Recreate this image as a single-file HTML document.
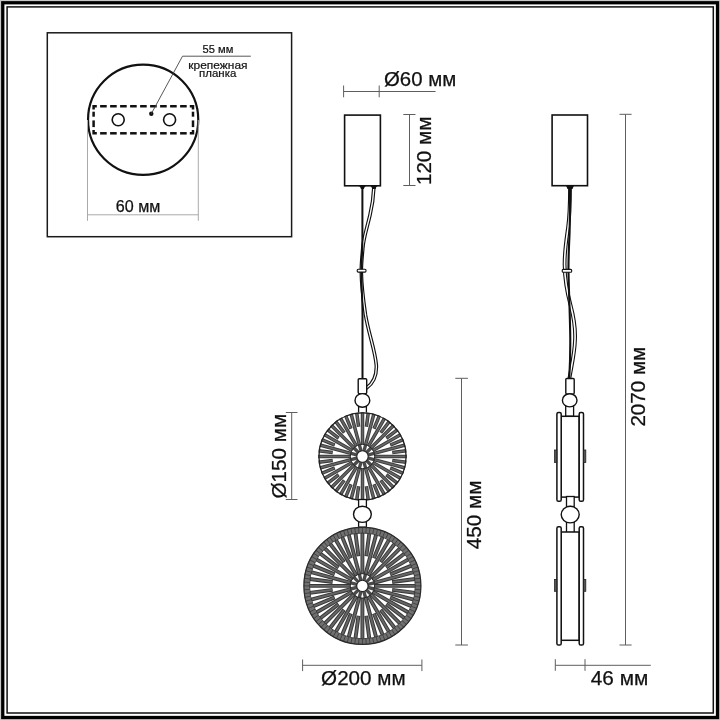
<!DOCTYPE html>
<html><head><meta charset="utf-8"><style>
html,body{margin:0;padding:0;background:#fff;width:720px;height:720px;overflow:hidden}
svg{display:block;will-change:transform}
text{font-family:"Liberation Sans", sans-serif}
</style></head><body>
<svg width="720" height="720" viewBox="0 0 720 720">
<rect x="0.5" y="0.5" width="719" height="719" fill="none" stroke="#c8c8c8" stroke-width="1"/>
<rect x="2.75" y="2.75" width="714.75" height="714.75" fill="none" stroke="#000" stroke-width="3.3"/>
<rect x="7.1" y="6.9" width="706.2" height="706.1" fill="none" stroke="#111" stroke-width="1.5"/>
<rect x="47.3" y="32.8" width="244.3" height="203.9" fill="none" stroke="#1a1a1a" stroke-width="1.5"/>
<circle cx="143.15" cy="119.75" r="55.1" fill="none" stroke="#111" stroke-width="2.2"/>
<polygon points="92.35,105.00 96.80,105.00 96.80,107.50 94.85,107.50 94.85,109.45 92.35,109.45" fill="#111"/>
<polygon points="194.25,105.00 189.80,105.00 189.80,107.50 191.75,107.50 191.75,109.45 194.25,109.45" fill="#111"/>
<polygon points="92.35,134.55 96.80,134.55 96.80,132.05 94.85,132.05 94.85,130.10 92.35,130.10" fill="#111"/>
<polygon points="194.25,134.55 189.80,134.55 189.80,132.05 191.75,132.05 191.75,130.10 194.25,130.10" fill="#111"/>
<line x1="100.10" y1="106.25" x2="106.70" y2="106.25" stroke="#111" stroke-width="2.5"/>
<line x1="100.10" y1="133.30" x2="106.70" y2="133.30" stroke="#111" stroke-width="2.5"/>
<line x1="110.10" y1="106.25" x2="116.70" y2="106.25" stroke="#111" stroke-width="2.5"/>
<line x1="110.10" y1="133.30" x2="116.70" y2="133.30" stroke="#111" stroke-width="2.5"/>
<line x1="120.10" y1="106.25" x2="126.70" y2="106.25" stroke="#111" stroke-width="2.5"/>
<line x1="120.10" y1="133.30" x2="126.70" y2="133.30" stroke="#111" stroke-width="2.5"/>
<line x1="130.10" y1="106.25" x2="136.70" y2="106.25" stroke="#111" stroke-width="2.5"/>
<line x1="130.10" y1="133.30" x2="136.70" y2="133.30" stroke="#111" stroke-width="2.5"/>
<line x1="140.10" y1="106.25" x2="146.70" y2="106.25" stroke="#111" stroke-width="2.5"/>
<line x1="140.10" y1="133.30" x2="146.70" y2="133.30" stroke="#111" stroke-width="2.5"/>
<line x1="150.10" y1="106.25" x2="156.70" y2="106.25" stroke="#111" stroke-width="2.5"/>
<line x1="150.10" y1="133.30" x2="156.70" y2="133.30" stroke="#111" stroke-width="2.5"/>
<line x1="160.10" y1="106.25" x2="166.70" y2="106.25" stroke="#111" stroke-width="2.5"/>
<line x1="160.10" y1="133.30" x2="166.70" y2="133.30" stroke="#111" stroke-width="2.5"/>
<line x1="170.10" y1="106.25" x2="176.70" y2="106.25" stroke="#111" stroke-width="2.5"/>
<line x1="170.10" y1="133.30" x2="176.70" y2="133.30" stroke="#111" stroke-width="2.5"/>
<line x1="180.10" y1="106.25" x2="186.70" y2="106.25" stroke="#111" stroke-width="2.5"/>
<line x1="180.10" y1="133.30" x2="186.70" y2="133.30" stroke="#111" stroke-width="2.5"/>
<line x1="93.60" y1="111.70" x2="93.60" y2="116.70" stroke="#111" stroke-width="2.5"/>
<line x1="193.00" y1="111.70" x2="193.00" y2="116.70" stroke="#111" stroke-width="2.5"/>
<line x1="93.60" y1="120.40" x2="93.60" y2="127.10" stroke="#111" stroke-width="2.5"/>
<line x1="193.00" y1="120.40" x2="193.00" y2="127.10" stroke="#111" stroke-width="2.5"/>
<circle cx="118.2" cy="119.8" r="6" fill="none" stroke="#111" stroke-width="1.6"/>
<circle cx="169.6" cy="119.8" r="6" fill="none" stroke="#111" stroke-width="1.6"/>
<circle cx="151.3" cy="113.75" r="2.2" fill="#111"/>
<polyline points="151.3,113.75 182.5,56.2 250.8,56.2" fill="none" stroke="#444" stroke-width="0.9"/>
<line x1="87.5" y1="120" x2="87.5" y2="220.8" stroke="#aaaaaa" stroke-width="1"/>
<line x1="198.3" y1="120" x2="198.3" y2="220.8" stroke="#aaaaaa" stroke-width="1"/>
<line x1="87.5" y1="214.8" x2="198.3" y2="214.8" stroke="#aaaaaa" stroke-width="1"/>
<text x="202.5" y="52.8" font-size="10.9" fill="#111" stroke="#111" stroke-width="0.2" textLength="30.8" lengthAdjust="spacingAndGlyphs">55 мм</text>
<text x="188.3" y="68.7" font-size="11.3" fill="#111" stroke="#111" stroke-width="0.2" textLength="59.2" lengthAdjust="spacingAndGlyphs">крепежная</text>
<text x="199" y="76.7" font-size="11.3" fill="#111" stroke="#111" stroke-width="0.2" textLength="37.3" lengthAdjust="spacingAndGlyphs">планка</text>
<text x="115.8" y="211.7" font-size="16.3" fill="#111" stroke="#111" stroke-width="0.25" textLength="44.6" lengthAdjust="spacingAndGlyphs">60 мм</text>
<line x1="343.3" y1="91.5" x2="435.6" y2="91.5" stroke="#5e5e5e" stroke-width="1"/>
<line x1="343.6" y1="85.5" x2="343.6" y2="97.3" stroke="#5e5e5e" stroke-width="1"/>
<line x1="379.2" y1="85.5" x2="379.2" y2="97.3" stroke="#5e5e5e" stroke-width="1"/>
<text x="384" y="85.8" font-size="19.6" fill="#111" stroke="#111" stroke-width="0.25" textLength="72.3" lengthAdjust="spacingAndGlyphs">Ø60 мм</text>
<line x1="409.5" y1="114.5" x2="409.5" y2="185.5" stroke="#5e5e5e" stroke-width="1"/>
<line x1="403.3" y1="114.5" x2="415.5" y2="114.5" stroke="#5e5e5e" stroke-width="1"/>
<line x1="403.3" y1="185.5" x2="415.5" y2="185.5" stroke="#5e5e5e" stroke-width="1"/>
<text x="0" y="0" transform="translate(431,185.1) rotate(-90)" font-size="19.6" fill="#111" stroke="#111" stroke-width="0.25" textLength="68.6" lengthAdjust="spacingAndGlyphs">120 мм</text>
<rect x="344.6" y="115.1" width="35.8" height="70.7" fill="#fff" stroke="#111" stroke-width="1.6"/>
<path d="M373.9,187 C373.5,196 372.5,205 370,215 C367,228 363.5,238 362.8,248 C362,258 361.2,264 361.3,272 C361.5,285 363,298 365.5,315 C369,335 375,350 376.3,365 C377,378 372,384 366.5,388" fill="none" stroke="#111" stroke-width="3.6" stroke-linecap="round"/>
<path d="M373.9,187 C373.5,196 372.5,205 370,215 C367,228 363.5,238 362.8,248 C362,258 361.2,264 361.3,272 C361.5,285 363,298 365.5,315 C369,335 375,350 376.3,365 C377,378 372,384 366.5,388" fill="none" stroke="#fff" stroke-width="1.3" stroke-linecap="round"/>
<path d="M362.4,187 L362.4,240 C362.3,255 361.3,262 361.4,272 C361.5,290 362.5,300 362.5,315 L362.5,379" fill="none" stroke="#111" stroke-width="2.0"/>
<path d="M357.8,185.5 L367,185.5 Q364.2,186.3 363.9,189 L361,189 Q360.6,186.3 357.8,185.5 Z" fill="#111"/>
<path d="M369.2,185.5 L378.6,185.5 Q375.8,186.3 375.6,189 L372.2,189 Q372,186.3 369.2,185.5 Z" fill="#111"/>
<rect x="357.2" y="269.3" width="8.8" height="2.8" rx="1" fill="#fff" stroke="#111" stroke-width="1.1"/>
<rect x="358.2" y="378.7" width="8.5" height="14.9" rx="1" fill="#fff" stroke="#111" stroke-width="1.4"/>
<rect x="358.6" y="406" width="7.8" height="7" fill="#fff" stroke="#111" stroke-width="1.3"/>
<ellipse cx="362.4" cy="400.4" rx="7.4" ry="6.8" fill="#fff" stroke="#111" stroke-width="1.4"/>
<circle cx="362.5" cy="456.5" r="44.2" fill="#fff"/><line x1="374.50" y1="456.50" x2="406.70" y2="456.50" stroke="#383838" stroke-width="3.5"/><line x1="392.24" y1="460.42" x2="406.32" y2="462.27" stroke="#383838" stroke-width="3.5"/><line x1="374.09" y1="459.61" x2="405.19" y2="467.94" stroke="#383838" stroke-width="3.5"/><line x1="390.22" y1="467.98" x2="403.34" y2="473.41" stroke="#383838" stroke-width="3.5"/><line x1="372.89" y1="462.50" x2="400.78" y2="478.60" stroke="#383838" stroke-width="3.5"/><line x1="386.30" y1="474.76" x2="397.57" y2="483.41" stroke="#383838" stroke-width="3.5"/><line x1="370.99" y1="464.99" x2="393.75" y2="487.75" stroke="#383838" stroke-width="3.5"/><line x1="380.76" y1="480.30" x2="389.41" y2="491.57" stroke="#383838" stroke-width="3.5"/><line x1="368.50" y1="466.89" x2="384.60" y2="494.78" stroke="#383838" stroke-width="3.5"/><line x1="373.98" y1="484.22" x2="379.41" y2="497.34" stroke="#383838" stroke-width="3.5"/><line x1="365.61" y1="468.09" x2="373.94" y2="499.19" stroke="#383838" stroke-width="3.5"/><line x1="366.42" y1="486.24" x2="368.27" y2="500.32" stroke="#383838" stroke-width="3.5"/><line x1="362.50" y1="468.50" x2="362.50" y2="500.70" stroke="#383838" stroke-width="3.5"/><line x1="358.58" y1="486.24" x2="356.73" y2="500.32" stroke="#383838" stroke-width="3.5"/><line x1="359.39" y1="468.09" x2="351.06" y2="499.19" stroke="#383838" stroke-width="3.5"/><line x1="351.02" y1="484.22" x2="345.59" y2="497.34" stroke="#383838" stroke-width="3.5"/><line x1="356.50" y1="466.89" x2="340.40" y2="494.78" stroke="#383838" stroke-width="3.5"/><line x1="344.24" y1="480.30" x2="335.59" y2="491.57" stroke="#383838" stroke-width="3.5"/><line x1="354.01" y1="464.99" x2="331.25" y2="487.75" stroke="#383838" stroke-width="3.5"/><line x1="338.70" y1="474.76" x2="327.43" y2="483.41" stroke="#383838" stroke-width="3.5"/><line x1="352.11" y1="462.50" x2="324.22" y2="478.60" stroke="#383838" stroke-width="3.5"/><line x1="334.78" y1="467.98" x2="321.66" y2="473.41" stroke="#383838" stroke-width="3.5"/><line x1="350.91" y1="459.61" x2="319.81" y2="467.94" stroke="#383838" stroke-width="3.5"/><line x1="332.76" y1="460.42" x2="318.68" y2="462.27" stroke="#383838" stroke-width="3.5"/><line x1="350.50" y1="456.50" x2="318.30" y2="456.50" stroke="#383838" stroke-width="3.5"/><line x1="332.76" y1="452.58" x2="318.68" y2="450.73" stroke="#383838" stroke-width="3.5"/><line x1="350.91" y1="453.39" x2="319.81" y2="445.06" stroke="#383838" stroke-width="3.5"/><line x1="334.78" y1="445.02" x2="321.66" y2="439.59" stroke="#383838" stroke-width="3.5"/><line x1="352.11" y1="450.50" x2="324.22" y2="434.40" stroke="#383838" stroke-width="3.5"/><line x1="338.70" y1="438.24" x2="327.43" y2="429.59" stroke="#383838" stroke-width="3.5"/><line x1="354.01" y1="448.01" x2="331.25" y2="425.25" stroke="#383838" stroke-width="3.5"/><line x1="344.24" y1="432.70" x2="335.59" y2="421.43" stroke="#383838" stroke-width="3.5"/><line x1="356.50" y1="446.11" x2="340.40" y2="418.22" stroke="#383838" stroke-width="3.5"/><line x1="351.02" y1="428.78" x2="345.59" y2="415.66" stroke="#383838" stroke-width="3.5"/><line x1="359.39" y1="444.91" x2="351.06" y2="413.81" stroke="#383838" stroke-width="3.5"/><line x1="358.58" y1="426.76" x2="356.73" y2="412.68" stroke="#383838" stroke-width="3.5"/><line x1="362.50" y1="444.50" x2="362.50" y2="412.30" stroke="#383838" stroke-width="3.5"/><line x1="366.42" y1="426.76" x2="368.27" y2="412.68" stroke="#383838" stroke-width="3.5"/><line x1="365.61" y1="444.91" x2="373.94" y2="413.81" stroke="#383838" stroke-width="3.5"/><line x1="373.98" y1="428.78" x2="379.41" y2="415.66" stroke="#383838" stroke-width="3.5"/><line x1="368.50" y1="446.11" x2="384.60" y2="418.22" stroke="#383838" stroke-width="3.5"/><line x1="380.76" y1="432.70" x2="389.41" y2="421.43" stroke="#383838" stroke-width="3.5"/><line x1="370.99" y1="448.01" x2="393.75" y2="425.25" stroke="#383838" stroke-width="3.5"/><line x1="386.30" y1="438.24" x2="397.57" y2="429.59" stroke="#383838" stroke-width="3.5"/><line x1="372.89" y1="450.50" x2="400.78" y2="434.40" stroke="#383838" stroke-width="3.5"/><line x1="390.22" y1="445.02" x2="403.34" y2="439.59" stroke="#383838" stroke-width="3.5"/><line x1="374.09" y1="453.39" x2="405.19" y2="445.06" stroke="#383838" stroke-width="3.5"/><line x1="392.24" y1="452.58" x2="406.32" y2="450.73" stroke="#383838" stroke-width="3.5"/><line x1="375.00" y1="456.50" x2="406.20" y2="456.50" stroke="#666" stroke-width="1.7"/><line x1="392.94" y1="460.51" x2="405.83" y2="462.20" stroke="#666" stroke-width="1.7"/><line x1="374.57" y1="459.74" x2="404.71" y2="467.81" stroke="#666" stroke-width="1.7"/><line x1="390.86" y1="468.25" x2="402.87" y2="473.22" stroke="#666" stroke-width="1.7"/><line x1="373.33" y1="462.75" x2="400.35" y2="478.35" stroke="#666" stroke-width="1.7"/><line x1="386.86" y1="475.19" x2="397.17" y2="483.10" stroke="#666" stroke-width="1.7"/><line x1="371.34" y1="465.34" x2="393.40" y2="487.40" stroke="#666" stroke-width="1.7"/><line x1="381.19" y1="480.86" x2="389.10" y2="491.17" stroke="#666" stroke-width="1.7"/><line x1="368.75" y1="467.33" x2="384.35" y2="494.35" stroke="#666" stroke-width="1.7"/><line x1="374.25" y1="484.86" x2="379.22" y2="496.87" stroke="#666" stroke-width="1.7"/><line x1="365.74" y1="468.57" x2="373.81" y2="498.71" stroke="#666" stroke-width="1.7"/><line x1="366.51" y1="486.94" x2="368.20" y2="499.83" stroke="#666" stroke-width="1.7"/><line x1="362.50" y1="469.00" x2="362.50" y2="500.20" stroke="#666" stroke-width="1.7"/><line x1="358.49" y1="486.94" x2="356.80" y2="499.83" stroke="#666" stroke-width="1.7"/><line x1="359.26" y1="468.57" x2="351.19" y2="498.71" stroke="#666" stroke-width="1.7"/><line x1="350.75" y1="484.86" x2="345.78" y2="496.87" stroke="#666" stroke-width="1.7"/><line x1="356.25" y1="467.33" x2="340.65" y2="494.35" stroke="#666" stroke-width="1.7"/><line x1="343.81" y1="480.86" x2="335.90" y2="491.17" stroke="#666" stroke-width="1.7"/><line x1="353.66" y1="465.34" x2="331.60" y2="487.40" stroke="#666" stroke-width="1.7"/><line x1="338.14" y1="475.19" x2="327.83" y2="483.10" stroke="#666" stroke-width="1.7"/><line x1="351.67" y1="462.75" x2="324.65" y2="478.35" stroke="#666" stroke-width="1.7"/><line x1="334.14" y1="468.25" x2="322.13" y2="473.22" stroke="#666" stroke-width="1.7"/><line x1="350.43" y1="459.74" x2="320.29" y2="467.81" stroke="#666" stroke-width="1.7"/><line x1="332.06" y1="460.51" x2="319.17" y2="462.20" stroke="#666" stroke-width="1.7"/><line x1="350.00" y1="456.50" x2="318.80" y2="456.50" stroke="#666" stroke-width="1.7"/><line x1="332.06" y1="452.49" x2="319.17" y2="450.80" stroke="#666" stroke-width="1.7"/><line x1="350.43" y1="453.26" x2="320.29" y2="445.19" stroke="#666" stroke-width="1.7"/><line x1="334.14" y1="444.75" x2="322.13" y2="439.78" stroke="#666" stroke-width="1.7"/><line x1="351.67" y1="450.25" x2="324.65" y2="434.65" stroke="#666" stroke-width="1.7"/><line x1="338.14" y1="437.81" x2="327.83" y2="429.90" stroke="#666" stroke-width="1.7"/><line x1="353.66" y1="447.66" x2="331.60" y2="425.60" stroke="#666" stroke-width="1.7"/><line x1="343.81" y1="432.14" x2="335.90" y2="421.83" stroke="#666" stroke-width="1.7"/><line x1="356.25" y1="445.67" x2="340.65" y2="418.65" stroke="#666" stroke-width="1.7"/><line x1="350.75" y1="428.14" x2="345.78" y2="416.13" stroke="#666" stroke-width="1.7"/><line x1="359.26" y1="444.43" x2="351.19" y2="414.29" stroke="#666" stroke-width="1.7"/><line x1="358.49" y1="426.06" x2="356.80" y2="413.17" stroke="#666" stroke-width="1.7"/><line x1="362.50" y1="444.00" x2="362.50" y2="412.80" stroke="#666" stroke-width="1.7"/><line x1="366.51" y1="426.06" x2="368.20" y2="413.17" stroke="#666" stroke-width="1.7"/><line x1="365.74" y1="444.43" x2="373.81" y2="414.29" stroke="#666" stroke-width="1.7"/><line x1="374.25" y1="428.14" x2="379.22" y2="416.13" stroke="#666" stroke-width="1.7"/><line x1="368.75" y1="445.67" x2="384.35" y2="418.65" stroke="#666" stroke-width="1.7"/><line x1="381.19" y1="432.14" x2="389.10" y2="421.83" stroke="#666" stroke-width="1.7"/><line x1="371.34" y1="447.66" x2="393.40" y2="425.60" stroke="#666" stroke-width="1.7"/><line x1="386.86" y1="437.81" x2="397.17" y2="429.90" stroke="#666" stroke-width="1.7"/><line x1="373.33" y1="450.25" x2="400.35" y2="434.65" stroke="#666" stroke-width="1.7"/><line x1="390.86" y1="444.75" x2="402.87" y2="439.78" stroke="#666" stroke-width="1.7"/><line x1="374.57" y1="453.26" x2="404.71" y2="445.19" stroke="#666" stroke-width="1.7"/><line x1="392.94" y1="452.49" x2="405.83" y2="450.80" stroke="#666" stroke-width="1.7"/><line x1="367.33" y1="457.79" x2="374.09" y2="459.61" stroke="#4a4a4a" stroke-width="3.4"/><line x1="366.04" y1="460.04" x2="370.99" y2="464.99" stroke="#4a4a4a" stroke-width="3.4"/><line x1="363.79" y1="461.33" x2="365.61" y2="468.09" stroke="#4a4a4a" stroke-width="3.4"/><line x1="361.21" y1="461.33" x2="359.39" y2="468.09" stroke="#4a4a4a" stroke-width="3.4"/><line x1="358.96" y1="460.04" x2="354.01" y2="464.99" stroke="#4a4a4a" stroke-width="3.4"/><line x1="357.67" y1="457.79" x2="350.91" y2="459.61" stroke="#4a4a4a" stroke-width="3.4"/><line x1="357.67" y1="455.21" x2="350.91" y2="453.39" stroke="#4a4a4a" stroke-width="3.4"/><line x1="358.96" y1="452.96" x2="354.01" y2="448.01" stroke="#4a4a4a" stroke-width="3.4"/><line x1="361.21" y1="451.67" x2="359.39" y2="444.91" stroke="#4a4a4a" stroke-width="3.4"/><line x1="363.79" y1="451.67" x2="365.61" y2="444.91" stroke="#4a4a4a" stroke-width="3.4"/><line x1="366.04" y1="452.96" x2="370.99" y2="448.01" stroke="#4a4a4a" stroke-width="3.4"/><line x1="367.33" y1="455.21" x2="374.09" y2="453.39" stroke="#4a4a4a" stroke-width="3.4"/><circle cx="362.5" cy="456.5" r="12.2" fill="none" stroke="#2a2a2a" stroke-width="1.0"/><circle cx="362.5" cy="456.5" r="5.7" fill="#fff" stroke="#222" stroke-width="1.1"/><circle cx="362.5" cy="456.5" r="43.6" fill="none" stroke="#222" stroke-width="1.3"/>
<rect x="358.6" y="499.5" width="7.8" height="7.5" fill="#fff" stroke="#111" stroke-width="1.3"/>
<rect x="358.6" y="521.5" width="7.8" height="5.5" fill="#fff" stroke="#111" stroke-width="1.3"/>
<ellipse cx="362.4" cy="514.3" rx="8.9" ry="8.1" fill="#fff" stroke="#111" stroke-width="1.4"/>
<circle cx="362.4" cy="585.9" r="59.1" fill="#fff"/><line x1="374.40" y1="585.90" x2="415.50" y2="585.90" stroke="#383838" stroke-width="3.9"/><line x1="392.14" y1="589.82" x2="415.05" y2="592.83" stroke="#383838" stroke-width="3.9"/><line x1="373.99" y1="589.01" x2="413.69" y2="599.64" stroke="#383838" stroke-width="3.9"/><line x1="390.12" y1="597.38" x2="411.46" y2="606.22" stroke="#383838" stroke-width="3.9"/><line x1="372.79" y1="591.90" x2="408.39" y2="612.45" stroke="#383838" stroke-width="3.9"/><line x1="386.20" y1="604.16" x2="404.53" y2="618.23" stroke="#383838" stroke-width="3.9"/><line x1="370.89" y1="594.39" x2="399.95" y2="623.45" stroke="#383838" stroke-width="3.9"/><line x1="380.66" y1="609.70" x2="394.73" y2="628.03" stroke="#383838" stroke-width="3.9"/><line x1="368.40" y1="596.29" x2="388.95" y2="631.89" stroke="#383838" stroke-width="3.9"/><line x1="373.88" y1="613.62" x2="382.72" y2="634.96" stroke="#383838" stroke-width="3.9"/><line x1="365.51" y1="597.49" x2="376.14" y2="637.19" stroke="#383838" stroke-width="3.9"/><line x1="366.32" y1="615.64" x2="369.33" y2="638.55" stroke="#383838" stroke-width="3.9"/><line x1="362.40" y1="597.90" x2="362.40" y2="639.00" stroke="#383838" stroke-width="3.9"/><line x1="358.48" y1="615.64" x2="355.47" y2="638.55" stroke="#383838" stroke-width="3.9"/><line x1="359.29" y1="597.49" x2="348.66" y2="637.19" stroke="#383838" stroke-width="3.9"/><line x1="350.92" y1="613.62" x2="342.08" y2="634.96" stroke="#383838" stroke-width="3.9"/><line x1="356.40" y1="596.29" x2="335.85" y2="631.89" stroke="#383838" stroke-width="3.9"/><line x1="344.14" y1="609.70" x2="330.07" y2="628.03" stroke="#383838" stroke-width="3.9"/><line x1="353.91" y1="594.39" x2="324.85" y2="623.45" stroke="#383838" stroke-width="3.9"/><line x1="338.60" y1="604.16" x2="320.27" y2="618.23" stroke="#383838" stroke-width="3.9"/><line x1="352.01" y1="591.90" x2="316.41" y2="612.45" stroke="#383838" stroke-width="3.9"/><line x1="334.68" y1="597.38" x2="313.34" y2="606.22" stroke="#383838" stroke-width="3.9"/><line x1="350.81" y1="589.01" x2="311.11" y2="599.64" stroke="#383838" stroke-width="3.9"/><line x1="332.66" y1="589.82" x2="309.75" y2="592.83" stroke="#383838" stroke-width="3.9"/><line x1="350.40" y1="585.90" x2="309.30" y2="585.90" stroke="#383838" stroke-width="3.9"/><line x1="332.66" y1="581.98" x2="309.75" y2="578.97" stroke="#383838" stroke-width="3.9"/><line x1="350.81" y1="582.79" x2="311.11" y2="572.16" stroke="#383838" stroke-width="3.9"/><line x1="334.68" y1="574.42" x2="313.34" y2="565.58" stroke="#383838" stroke-width="3.9"/><line x1="352.01" y1="579.90" x2="316.41" y2="559.35" stroke="#383838" stroke-width="3.9"/><line x1="338.60" y1="567.64" x2="320.27" y2="553.57" stroke="#383838" stroke-width="3.9"/><line x1="353.91" y1="577.41" x2="324.85" y2="548.35" stroke="#383838" stroke-width="3.9"/><line x1="344.14" y1="562.10" x2="330.07" y2="543.77" stroke="#383838" stroke-width="3.9"/><line x1="356.40" y1="575.51" x2="335.85" y2="539.91" stroke="#383838" stroke-width="3.9"/><line x1="350.92" y1="558.18" x2="342.08" y2="536.84" stroke="#383838" stroke-width="3.9"/><line x1="359.29" y1="574.31" x2="348.66" y2="534.61" stroke="#383838" stroke-width="3.9"/><line x1="358.48" y1="556.16" x2="355.47" y2="533.25" stroke="#383838" stroke-width="3.9"/><line x1="362.40" y1="573.90" x2="362.40" y2="532.80" stroke="#383838" stroke-width="3.9"/><line x1="366.32" y1="556.16" x2="369.33" y2="533.25" stroke="#383838" stroke-width="3.9"/><line x1="365.51" y1="574.31" x2="376.14" y2="534.61" stroke="#383838" stroke-width="3.9"/><line x1="373.88" y1="558.18" x2="382.72" y2="536.84" stroke="#383838" stroke-width="3.9"/><line x1="368.40" y1="575.51" x2="388.95" y2="539.91" stroke="#383838" stroke-width="3.9"/><line x1="380.66" y1="562.10" x2="394.73" y2="543.77" stroke="#383838" stroke-width="3.9"/><line x1="370.89" y1="577.41" x2="399.95" y2="548.35" stroke="#383838" stroke-width="3.9"/><line x1="386.20" y1="567.64" x2="404.53" y2="553.57" stroke="#383838" stroke-width="3.9"/><line x1="372.79" y1="579.90" x2="408.39" y2="559.35" stroke="#383838" stroke-width="3.9"/><line x1="390.12" y1="574.42" x2="411.46" y2="565.58" stroke="#383838" stroke-width="3.9"/><line x1="373.99" y1="582.79" x2="413.69" y2="572.16" stroke="#383838" stroke-width="3.9"/><line x1="392.14" y1="581.98" x2="415.05" y2="578.97" stroke="#383838" stroke-width="3.9"/><line x1="374.90" y1="585.90" x2="415.00" y2="585.90" stroke="#666" stroke-width="1.9"/><line x1="392.84" y1="589.91" x2="414.55" y2="592.77" stroke="#666" stroke-width="1.9"/><line x1="374.47" y1="589.14" x2="413.21" y2="599.51" stroke="#666" stroke-width="1.9"/><line x1="390.76" y1="597.65" x2="411.00" y2="606.03" stroke="#666" stroke-width="1.9"/><line x1="373.23" y1="592.15" x2="407.95" y2="612.20" stroke="#666" stroke-width="1.9"/><line x1="386.76" y1="604.59" x2="404.13" y2="617.92" stroke="#666" stroke-width="1.9"/><line x1="371.24" y1="594.74" x2="399.59" y2="623.09" stroke="#666" stroke-width="1.9"/><line x1="381.09" y1="610.26" x2="394.42" y2="627.63" stroke="#666" stroke-width="1.9"/><line x1="368.65" y1="596.73" x2="388.70" y2="631.45" stroke="#666" stroke-width="1.9"/><line x1="374.15" y1="614.26" x2="382.53" y2="634.50" stroke="#666" stroke-width="1.9"/><line x1="365.64" y1="597.97" x2="376.01" y2="636.71" stroke="#666" stroke-width="1.9"/><line x1="366.41" y1="616.34" x2="369.27" y2="638.05" stroke="#666" stroke-width="1.9"/><line x1="362.40" y1="598.40" x2="362.40" y2="638.50" stroke="#666" stroke-width="1.9"/><line x1="358.39" y1="616.34" x2="355.53" y2="638.05" stroke="#666" stroke-width="1.9"/><line x1="359.16" y1="597.97" x2="348.79" y2="636.71" stroke="#666" stroke-width="1.9"/><line x1="350.65" y1="614.26" x2="342.27" y2="634.50" stroke="#666" stroke-width="1.9"/><line x1="356.15" y1="596.73" x2="336.10" y2="631.45" stroke="#666" stroke-width="1.9"/><line x1="343.71" y1="610.26" x2="330.38" y2="627.63" stroke="#666" stroke-width="1.9"/><line x1="353.56" y1="594.74" x2="325.21" y2="623.09" stroke="#666" stroke-width="1.9"/><line x1="338.04" y1="604.59" x2="320.67" y2="617.92" stroke="#666" stroke-width="1.9"/><line x1="351.57" y1="592.15" x2="316.85" y2="612.20" stroke="#666" stroke-width="1.9"/><line x1="334.04" y1="597.65" x2="313.80" y2="606.03" stroke="#666" stroke-width="1.9"/><line x1="350.33" y1="589.14" x2="311.59" y2="599.51" stroke="#666" stroke-width="1.9"/><line x1="331.96" y1="589.91" x2="310.25" y2="592.77" stroke="#666" stroke-width="1.9"/><line x1="349.90" y1="585.90" x2="309.80" y2="585.90" stroke="#666" stroke-width="1.9"/><line x1="331.96" y1="581.89" x2="310.25" y2="579.03" stroke="#666" stroke-width="1.9"/><line x1="350.33" y1="582.66" x2="311.59" y2="572.29" stroke="#666" stroke-width="1.9"/><line x1="334.04" y1="574.15" x2="313.80" y2="565.77" stroke="#666" stroke-width="1.9"/><line x1="351.57" y1="579.65" x2="316.85" y2="559.60" stroke="#666" stroke-width="1.9"/><line x1="338.04" y1="567.21" x2="320.67" y2="553.88" stroke="#666" stroke-width="1.9"/><line x1="353.56" y1="577.06" x2="325.21" y2="548.71" stroke="#666" stroke-width="1.9"/><line x1="343.71" y1="561.54" x2="330.38" y2="544.17" stroke="#666" stroke-width="1.9"/><line x1="356.15" y1="575.07" x2="336.10" y2="540.35" stroke="#666" stroke-width="1.9"/><line x1="350.65" y1="557.54" x2="342.27" y2="537.30" stroke="#666" stroke-width="1.9"/><line x1="359.16" y1="573.83" x2="348.79" y2="535.09" stroke="#666" stroke-width="1.9"/><line x1="358.39" y1="555.46" x2="355.53" y2="533.75" stroke="#666" stroke-width="1.9"/><line x1="362.40" y1="573.40" x2="362.40" y2="533.30" stroke="#666" stroke-width="1.9"/><line x1="366.41" y1="555.46" x2="369.27" y2="533.75" stroke="#666" stroke-width="1.9"/><line x1="365.64" y1="573.83" x2="376.01" y2="535.09" stroke="#666" stroke-width="1.9"/><line x1="374.15" y1="557.54" x2="382.53" y2="537.30" stroke="#666" stroke-width="1.9"/><line x1="368.65" y1="575.07" x2="388.70" y2="540.35" stroke="#666" stroke-width="1.9"/><line x1="381.09" y1="561.54" x2="394.42" y2="544.17" stroke="#666" stroke-width="1.9"/><line x1="371.24" y1="577.06" x2="399.59" y2="548.71" stroke="#666" stroke-width="1.9"/><line x1="386.76" y1="567.21" x2="404.13" y2="553.88" stroke="#666" stroke-width="1.9"/><line x1="373.23" y1="579.65" x2="407.95" y2="559.60" stroke="#666" stroke-width="1.9"/><line x1="390.76" y1="574.15" x2="411.00" y2="565.77" stroke="#666" stroke-width="1.9"/><line x1="374.47" y1="582.66" x2="413.21" y2="572.29" stroke="#666" stroke-width="1.9"/><line x1="392.84" y1="581.89" x2="414.55" y2="579.03" stroke="#666" stroke-width="1.9"/><line x1="367.23" y1="587.19" x2="373.99" y2="589.01" stroke="#4a4a4a" stroke-width="3.4"/><line x1="365.94" y1="589.44" x2="370.89" y2="594.39" stroke="#4a4a4a" stroke-width="3.4"/><line x1="363.69" y1="590.73" x2="365.51" y2="597.49" stroke="#4a4a4a" stroke-width="3.4"/><line x1="361.11" y1="590.73" x2="359.29" y2="597.49" stroke="#4a4a4a" stroke-width="3.4"/><line x1="358.86" y1="589.44" x2="353.91" y2="594.39" stroke="#4a4a4a" stroke-width="3.4"/><line x1="357.57" y1="587.19" x2="350.81" y2="589.01" stroke="#4a4a4a" stroke-width="3.4"/><line x1="357.57" y1="584.61" x2="350.81" y2="582.79" stroke="#4a4a4a" stroke-width="3.4"/><line x1="358.86" y1="582.36" x2="353.91" y2="577.41" stroke="#4a4a4a" stroke-width="3.4"/><line x1="361.11" y1="581.07" x2="359.29" y2="574.31" stroke="#4a4a4a" stroke-width="3.4"/><line x1="363.69" y1="581.07" x2="365.51" y2="574.31" stroke="#4a4a4a" stroke-width="3.4"/><line x1="365.94" y1="582.36" x2="370.89" y2="577.41" stroke="#4a4a4a" stroke-width="3.4"/><line x1="367.23" y1="584.61" x2="373.99" y2="582.79" stroke="#4a4a4a" stroke-width="3.4"/><circle cx="362.4" cy="585.9" r="12.2" fill="none" stroke="#2a2a2a" stroke-width="1.0"/><circle cx="362.4" cy="585.9" r="5.7" fill="#fff" stroke="#222" stroke-width="1.1"/><circle cx="362.4" cy="585.9" r="55.800000000000004" fill="none" stroke="#707070" stroke-width="6.0"/><line x1="415.20" y1="585.90" x2="421.00" y2="585.90" stroke="#3e3e3e" stroke-width="0.9"/><line x1="415.09" y1="589.35" x2="420.87" y2="589.73" stroke="#3e3e3e" stroke-width="0.9"/><line x1="414.75" y1="592.79" x2="420.50" y2="593.55" stroke="#3e3e3e" stroke-width="0.9"/><line x1="414.19" y1="596.20" x2="419.87" y2="597.33" stroke="#3e3e3e" stroke-width="0.9"/><line x1="413.40" y1="599.57" x2="419.00" y2="601.07" stroke="#3e3e3e" stroke-width="0.9"/><line x1="412.40" y1="602.87" x2="417.89" y2="604.74" stroke="#3e3e3e" stroke-width="0.9"/><line x1="411.18" y1="606.11" x2="416.54" y2="608.33" stroke="#3e3e3e" stroke-width="0.9"/><line x1="409.75" y1="609.25" x2="414.96" y2="611.82" stroke="#3e3e3e" stroke-width="0.9"/><line x1="408.13" y1="612.30" x2="413.15" y2="615.20" stroke="#3e3e3e" stroke-width="0.9"/><line x1="406.30" y1="615.23" x2="411.12" y2="618.46" stroke="#3e3e3e" stroke-width="0.9"/><line x1="404.29" y1="618.04" x2="408.89" y2="621.57" stroke="#3e3e3e" stroke-width="0.9"/><line x1="402.10" y1="620.71" x2="406.46" y2="624.54" stroke="#3e3e3e" stroke-width="0.9"/><line x1="399.74" y1="623.24" x2="403.84" y2="627.34" stroke="#3e3e3e" stroke-width="0.9"/><line x1="397.21" y1="625.60" x2="401.04" y2="629.96" stroke="#3e3e3e" stroke-width="0.9"/><line x1="394.54" y1="627.79" x2="398.07" y2="632.39" stroke="#3e3e3e" stroke-width="0.9"/><line x1="391.73" y1="629.80" x2="394.96" y2="634.62" stroke="#3e3e3e" stroke-width="0.9"/><line x1="388.80" y1="631.63" x2="391.70" y2="636.65" stroke="#3e3e3e" stroke-width="0.9"/><line x1="385.75" y1="633.25" x2="388.32" y2="638.46" stroke="#3e3e3e" stroke-width="0.9"/><line x1="382.61" y1="634.68" x2="384.83" y2="640.04" stroke="#3e3e3e" stroke-width="0.9"/><line x1="379.37" y1="635.90" x2="381.24" y2="641.39" stroke="#3e3e3e" stroke-width="0.9"/><line x1="376.07" y1="636.90" x2="377.57" y2="642.50" stroke="#3e3e3e" stroke-width="0.9"/><line x1="372.70" y1="637.69" x2="373.83" y2="643.37" stroke="#3e3e3e" stroke-width="0.9"/><line x1="369.29" y1="638.25" x2="370.05" y2="644.00" stroke="#3e3e3e" stroke-width="0.9"/><line x1="365.85" y1="638.59" x2="366.23" y2="644.37" stroke="#3e3e3e" stroke-width="0.9"/><line x1="362.40" y1="638.70" x2="362.40" y2="644.50" stroke="#3e3e3e" stroke-width="0.9"/><line x1="358.95" y1="638.59" x2="358.57" y2="644.37" stroke="#3e3e3e" stroke-width="0.9"/><line x1="355.51" y1="638.25" x2="354.75" y2="644.00" stroke="#3e3e3e" stroke-width="0.9"/><line x1="352.10" y1="637.69" x2="350.97" y2="643.37" stroke="#3e3e3e" stroke-width="0.9"/><line x1="348.73" y1="636.90" x2="347.23" y2="642.50" stroke="#3e3e3e" stroke-width="0.9"/><line x1="345.43" y1="635.90" x2="343.56" y2="641.39" stroke="#3e3e3e" stroke-width="0.9"/><line x1="342.19" y1="634.68" x2="339.97" y2="640.04" stroke="#3e3e3e" stroke-width="0.9"/><line x1="339.05" y1="633.25" x2="336.48" y2="638.46" stroke="#3e3e3e" stroke-width="0.9"/><line x1="336.00" y1="631.63" x2="333.10" y2="636.65" stroke="#3e3e3e" stroke-width="0.9"/><line x1="333.07" y1="629.80" x2="329.84" y2="634.62" stroke="#3e3e3e" stroke-width="0.9"/><line x1="330.26" y1="627.79" x2="326.73" y2="632.39" stroke="#3e3e3e" stroke-width="0.9"/><line x1="327.59" y1="625.60" x2="323.76" y2="629.96" stroke="#3e3e3e" stroke-width="0.9"/><line x1="325.06" y1="623.24" x2="320.96" y2="627.34" stroke="#3e3e3e" stroke-width="0.9"/><line x1="322.70" y1="620.71" x2="318.34" y2="624.54" stroke="#3e3e3e" stroke-width="0.9"/><line x1="320.51" y1="618.04" x2="315.91" y2="621.57" stroke="#3e3e3e" stroke-width="0.9"/><line x1="318.50" y1="615.23" x2="313.68" y2="618.46" stroke="#3e3e3e" stroke-width="0.9"/><line x1="316.67" y1="612.30" x2="311.65" y2="615.20" stroke="#3e3e3e" stroke-width="0.9"/><line x1="315.05" y1="609.25" x2="309.84" y2="611.82" stroke="#3e3e3e" stroke-width="0.9"/><line x1="313.62" y1="606.11" x2="308.26" y2="608.33" stroke="#3e3e3e" stroke-width="0.9"/><line x1="312.40" y1="602.87" x2="306.91" y2="604.74" stroke="#3e3e3e" stroke-width="0.9"/><line x1="311.40" y1="599.57" x2="305.80" y2="601.07" stroke="#3e3e3e" stroke-width="0.9"/><line x1="310.61" y1="596.20" x2="304.93" y2="597.33" stroke="#3e3e3e" stroke-width="0.9"/><line x1="310.05" y1="592.79" x2="304.30" y2="593.55" stroke="#3e3e3e" stroke-width="0.9"/><line x1="309.71" y1="589.35" x2="303.93" y2="589.73" stroke="#3e3e3e" stroke-width="0.9"/><line x1="309.60" y1="585.90" x2="303.80" y2="585.90" stroke="#3e3e3e" stroke-width="0.9"/><line x1="309.71" y1="582.45" x2="303.93" y2="582.07" stroke="#3e3e3e" stroke-width="0.9"/><line x1="310.05" y1="579.01" x2="304.30" y2="578.25" stroke="#3e3e3e" stroke-width="0.9"/><line x1="310.61" y1="575.60" x2="304.93" y2="574.47" stroke="#3e3e3e" stroke-width="0.9"/><line x1="311.40" y1="572.23" x2="305.80" y2="570.73" stroke="#3e3e3e" stroke-width="0.9"/><line x1="312.40" y1="568.93" x2="306.91" y2="567.06" stroke="#3e3e3e" stroke-width="0.9"/><line x1="313.62" y1="565.69" x2="308.26" y2="563.47" stroke="#3e3e3e" stroke-width="0.9"/><line x1="315.05" y1="562.55" x2="309.84" y2="559.98" stroke="#3e3e3e" stroke-width="0.9"/><line x1="316.67" y1="559.50" x2="311.65" y2="556.60" stroke="#3e3e3e" stroke-width="0.9"/><line x1="318.50" y1="556.57" x2="313.68" y2="553.34" stroke="#3e3e3e" stroke-width="0.9"/><line x1="320.51" y1="553.76" x2="315.91" y2="550.23" stroke="#3e3e3e" stroke-width="0.9"/><line x1="322.70" y1="551.09" x2="318.34" y2="547.26" stroke="#3e3e3e" stroke-width="0.9"/><line x1="325.06" y1="548.56" x2="320.96" y2="544.46" stroke="#3e3e3e" stroke-width="0.9"/><line x1="327.59" y1="546.20" x2="323.76" y2="541.84" stroke="#3e3e3e" stroke-width="0.9"/><line x1="330.26" y1="544.01" x2="326.73" y2="539.41" stroke="#3e3e3e" stroke-width="0.9"/><line x1="333.07" y1="542.00" x2="329.84" y2="537.18" stroke="#3e3e3e" stroke-width="0.9"/><line x1="336.00" y1="540.17" x2="333.10" y2="535.15" stroke="#3e3e3e" stroke-width="0.9"/><line x1="339.05" y1="538.55" x2="336.48" y2="533.34" stroke="#3e3e3e" stroke-width="0.9"/><line x1="342.19" y1="537.12" x2="339.97" y2="531.76" stroke="#3e3e3e" stroke-width="0.9"/><line x1="345.43" y1="535.90" x2="343.56" y2="530.41" stroke="#3e3e3e" stroke-width="0.9"/><line x1="348.73" y1="534.90" x2="347.23" y2="529.30" stroke="#3e3e3e" stroke-width="0.9"/><line x1="352.10" y1="534.11" x2="350.97" y2="528.43" stroke="#3e3e3e" stroke-width="0.9"/><line x1="355.51" y1="533.55" x2="354.75" y2="527.80" stroke="#3e3e3e" stroke-width="0.9"/><line x1="358.95" y1="533.21" x2="358.57" y2="527.43" stroke="#3e3e3e" stroke-width="0.9"/><line x1="362.40" y1="533.10" x2="362.40" y2="527.30" stroke="#3e3e3e" stroke-width="0.9"/><line x1="365.85" y1="533.21" x2="366.23" y2="527.43" stroke="#3e3e3e" stroke-width="0.9"/><line x1="369.29" y1="533.55" x2="370.05" y2="527.80" stroke="#3e3e3e" stroke-width="0.9"/><line x1="372.70" y1="534.11" x2="373.83" y2="528.43" stroke="#3e3e3e" stroke-width="0.9"/><line x1="376.07" y1="534.90" x2="377.57" y2="529.30" stroke="#3e3e3e" stroke-width="0.9"/><line x1="379.37" y1="535.90" x2="381.24" y2="530.41" stroke="#3e3e3e" stroke-width="0.9"/><line x1="382.61" y1="537.12" x2="384.83" y2="531.76" stroke="#3e3e3e" stroke-width="0.9"/><line x1="385.75" y1="538.55" x2="388.32" y2="533.34" stroke="#3e3e3e" stroke-width="0.9"/><line x1="388.80" y1="540.17" x2="391.70" y2="535.15" stroke="#3e3e3e" stroke-width="0.9"/><line x1="391.73" y1="542.00" x2="394.96" y2="537.18" stroke="#3e3e3e" stroke-width="0.9"/><line x1="394.54" y1="544.01" x2="398.07" y2="539.41" stroke="#3e3e3e" stroke-width="0.9"/><line x1="397.21" y1="546.20" x2="401.04" y2="541.84" stroke="#3e3e3e" stroke-width="0.9"/><line x1="399.74" y1="548.56" x2="403.84" y2="544.46" stroke="#3e3e3e" stroke-width="0.9"/><line x1="402.10" y1="551.09" x2="406.46" y2="547.26" stroke="#3e3e3e" stroke-width="0.9"/><line x1="404.29" y1="553.76" x2="408.89" y2="550.23" stroke="#3e3e3e" stroke-width="0.9"/><line x1="406.30" y1="556.57" x2="411.12" y2="553.34" stroke="#3e3e3e" stroke-width="0.9"/><line x1="408.13" y1="559.50" x2="413.15" y2="556.60" stroke="#3e3e3e" stroke-width="0.9"/><line x1="409.75" y1="562.55" x2="414.96" y2="559.98" stroke="#3e3e3e" stroke-width="0.9"/><line x1="411.18" y1="565.69" x2="416.54" y2="563.47" stroke="#3e3e3e" stroke-width="0.9"/><line x1="412.40" y1="568.93" x2="417.89" y2="567.06" stroke="#3e3e3e" stroke-width="0.9"/><line x1="413.40" y1="572.23" x2="419.00" y2="570.73" stroke="#3e3e3e" stroke-width="0.9"/><line x1="414.19" y1="575.60" x2="419.87" y2="574.47" stroke="#3e3e3e" stroke-width="0.9"/><line x1="414.75" y1="579.01" x2="420.50" y2="578.25" stroke="#3e3e3e" stroke-width="0.9"/><line x1="415.09" y1="582.45" x2="420.87" y2="582.07" stroke="#3e3e3e" stroke-width="0.9"/><circle cx="362.4" cy="585.9" r="58.5" fill="none" stroke="#2a2a2a" stroke-width="1.2"/><circle cx="362.4" cy="585.9" r="52.9" fill="none" stroke="#3a3a3a" stroke-width="0.9"/>
<line x1="291.7" y1="412.5" x2="291.7" y2="499.5" stroke="#5e5e5e" stroke-width="1"/>
<line x1="285.8" y1="412.5" x2="297.5" y2="412.5" stroke="#5e5e5e" stroke-width="1"/>
<line x1="285.8" y1="499.5" x2="297.5" y2="499.5" stroke="#5e5e5e" stroke-width="1"/>
<text x="0" y="0" transform="translate(285.8,498.6) rotate(-90)" font-size="19.6" fill="#111" stroke="#111" stroke-width="0.25" textLength="84.8" lengthAdjust="spacingAndGlyphs">Ø150 мм</text>
<line x1="461.5" y1="378.3" x2="461.5" y2="645" stroke="#5e5e5e" stroke-width="1"/>
<line x1="455.3" y1="378.3" x2="467.9" y2="378.3" stroke="#5e5e5e" stroke-width="1"/>
<line x1="455.3" y1="645" x2="467.9" y2="645" stroke="#5e5e5e" stroke-width="1"/>
<text x="0" y="0" transform="translate(480.6,549.2) rotate(-90)" font-size="19.6" fill="#111" stroke="#111" stroke-width="0.25" textLength="68.8" lengthAdjust="spacingAndGlyphs">450 мм</text>
<line x1="302.6" y1="665.3" x2="421.9" y2="665.3" stroke="#5e5e5e" stroke-width="1"/>
<line x1="302.6" y1="659.5" x2="302.6" y2="671.1" stroke="#5e5e5e" stroke-width="1"/>
<line x1="421.9" y1="659.5" x2="421.9" y2="671.1" stroke="#5e5e5e" stroke-width="1"/>
<text x="321.1" y="684.6" font-size="19.6" fill="#111" stroke="#111" stroke-width="0.25" textLength="84.5" lengthAdjust="spacingAndGlyphs">Ø200 мм</text>
<rect x="552.1" y="115" width="35.4" height="70.7" fill="#fff" stroke="#111" stroke-width="1.6"/>
<path d="M570,188 C570,200 570,214 568,228 C566,242 564.4,252 564.6,265 C564.8,280 567,292 570.5,305 C574,318 575.5,330 575,340 C574.5,355 571,368 569.5,378" fill="none" stroke="#111" stroke-width="3.8" stroke-linecap="round"/>
<path d="M570,188 C570,200 570,214 568,228 C566,242 564.4,252 564.6,265 C564.8,280 567,292 570.5,305 C574,318 575.5,330 575,340 C574.5,355 571,368 569.5,378" fill="none" stroke="#fff" stroke-width="1.6" stroke-linecap="round"/>
<path d="M570,188 C570,205 570,220 569.5,235 C568.8,250 568.3,260 568.5,272 C568.8,290 569.8,310 570.2,333 C570.5,350 570,365 569.3,378" fill="none" stroke="#111" stroke-width="2.1"/>
<path d="M566,185.5 L574,185.5 L572.5,189 L567.5,189 Z" fill="#111"/>
<rect x="562.2" y="269.4" width="9.5" height="2.8" rx="1" fill="#fff" stroke="#111" stroke-width="1.1"/>
<rect x="565.8" y="378.5" width="8.4" height="15.6" rx="1" fill="#fff" stroke="#111" stroke-width="1.4"/>
<rect x="565.7" y="406" width="7.9" height="10.3" fill="#fff" stroke="#111" stroke-width="1.3"/>
<ellipse cx="569.7" cy="400.3" rx="7.3" ry="6.6" fill="#fff" stroke="#111" stroke-width="1.4"/>
<rect x="561.2" y="416.3" width="18" height="80.80000000000001" fill="#fff" stroke="#111" stroke-width="1.5"/><rect x="556.9" y="412.4" width="4.3" height="88.90000000000003" rx="1.6" fill="#fff" stroke="#111" stroke-width="1.5"/><rect x="579.2" y="412.4" width="4.3" height="88.90000000000003" rx="1.6" fill="#fff" stroke="#111" stroke-width="1.5"/><rect x="554.6" y="450" width="2.2" height="12.5" fill="#555" stroke="#222" stroke-width="0.8"/><rect x="583.6" y="450" width="2.2" height="12.5" fill="#555" stroke="#222" stroke-width="0.8"/>
<rect x="566.5" y="496.5" width="7.7" height="10" fill="#fff" stroke="#111" stroke-width="1.3"/>
<rect x="566.5" y="522" width="7.7" height="10.5" fill="#fff" stroke="#111" stroke-width="1.3"/>
<ellipse cx="570.2" cy="514.6" rx="9" ry="8.3" fill="#fff" stroke="#111" stroke-width="1.4"/>
<rect x="561.2" y="532" width="18" height="108.29999999999995" fill="#fff" stroke="#111" stroke-width="1.5"/><rect x="556.9" y="526.7" width="4.3" height="118.29999999999995" rx="1.6" fill="#fff" stroke="#111" stroke-width="1.5"/><rect x="579.2" y="526.7" width="4.3" height="118.29999999999995" rx="1.6" fill="#fff" stroke="#111" stroke-width="1.5"/><rect x="554.6" y="579.4" width="2.2" height="11.899999999999977" fill="#555" stroke="#222" stroke-width="0.8"/><rect x="583.6" y="579.4" width="2.2" height="11.899999999999977" fill="#555" stroke="#222" stroke-width="0.8"/>
<line x1="625.5" y1="114.3" x2="625.5" y2="645" stroke="#5e5e5e" stroke-width="1"/>
<line x1="619.5" y1="114.3" x2="631.6" y2="114.3" stroke="#5e5e5e" stroke-width="1"/>
<line x1="619.5" y1="645" x2="631.6" y2="645" stroke="#5e5e5e" stroke-width="1"/>
<text x="0" y="0" transform="translate(645.2,426.6) rotate(-90)" font-size="19.6" fill="#111" stroke="#111" stroke-width="0.25" textLength="79.8" lengthAdjust="spacingAndGlyphs">2070 мм</text>
<line x1="555.3" y1="665.3" x2="650.8" y2="665.3" stroke="#5e5e5e" stroke-width="1"/>
<line x1="555.3" y1="659.2" x2="555.3" y2="670.8" stroke="#5e5e5e" stroke-width="1"/>
<line x1="585" y1="659.2" x2="585" y2="670.8" stroke="#5e5e5e" stroke-width="1"/>
<text x="590.8" y="684.8" font-size="19.6" fill="#111" stroke="#111" stroke-width="0.25" textLength="57.5" lengthAdjust="spacingAndGlyphs">46 мм</text>
</svg>
</body></html>
